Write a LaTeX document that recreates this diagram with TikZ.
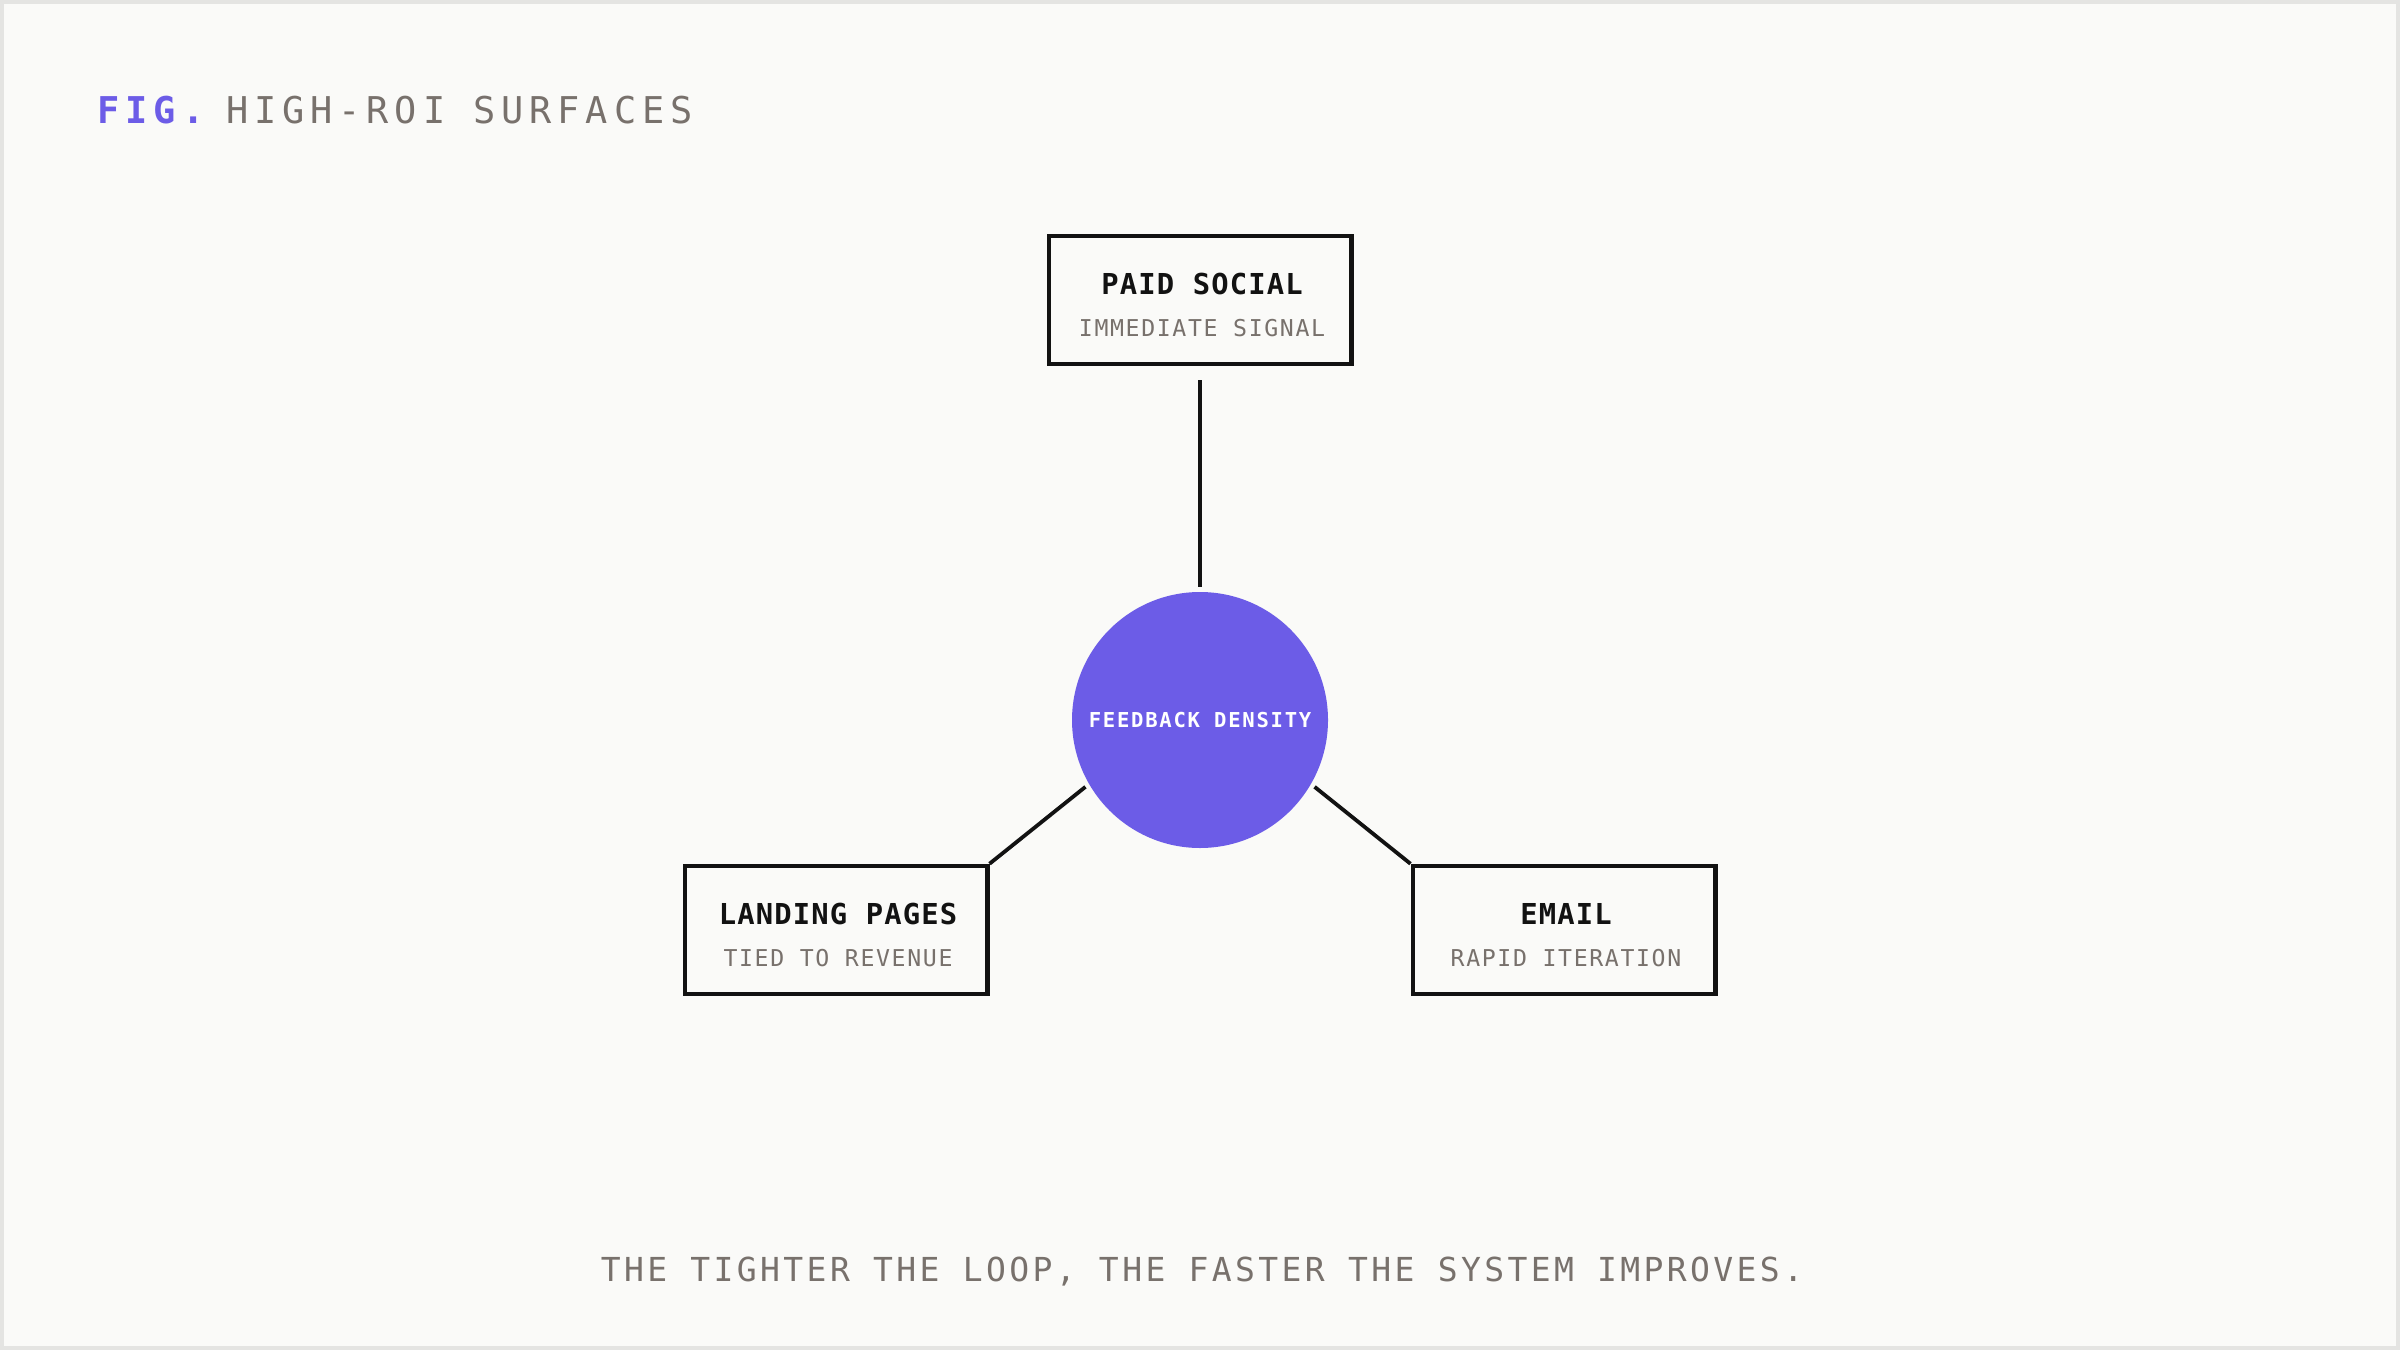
\documentclass[tikz,border=0pt]{standalone}
\usepackage{fontspec}
\usepackage{tikz}
\usetikzlibrary{positioning}
\newfontfamily\headfam[LetterSpace=16]{DejaVu Sans Mono}
\newfontfamily\surftitlefam[LetterSpace=4]{DejaVu Sans Mono}
\newfontfamily\surfsubfam[LetterSpace=7]{DejaVu Sans Mono}
\newfontfamily\hubfam[LetterSpace=8.5]{DejaVu Sans Mono}
\newfontfamily\notefam[LetterSpace=10.2]{DejaVu Sans Mono}
\newcommand{\headfont}{\headfam\fontsize{10.5pt}{12pt}\selectfont}
\newcommand{\surftitlefont}{\surftitlefam\fontsize{8.2pt}{10pt}\selectfont\bfseries}
\newcommand{\surfsubfont}{\surfsubfam\fontsize{6.6pt}{8pt}\selectfont}
\newcommand{\hubfont}{\hubfam\fontsize{5.85pt}{7pt}\selectfont\bfseries}
\newcommand{\notefont}{\notefam\fontsize{9.4pt}{11pt}\selectfont}
\definecolor{figpurple}{HTML}{6C5CE7}
\definecolor{inkgray}{HTML}{78716C}
\definecolor{paper}{HTML}{FAFAF8}
\definecolor{rim}{HTML}{E4E4E2}

\begin{document}
\begin{tikzpicture}[x=0.1mm,y=-0.1mm,
  surface/.style={draw=black!93,line width=0.45mm,fill=paper,minimum width=30.25mm,minimum height=12.8mm,inner sep=0pt},
  surftitle/.style={anchor=base,inner sep=0pt,font=\surftitlefont,text=black!93},
  surfsub/.style={anchor=base,inner sep=0pt,font=\surfsubfont,text=inkgray},
  spoke/.style={line width=0.38mm,draw=black!93}]
\fill[paper] (0,0) rectangle (2400,1350);
\draw[rim,line width=0.4mm] (2,2) rectangle (2398,1348);
\useasboundingbox (0,0) rectangle (2400,1350);
\node[anchor=base west,inner sep=0pt,font=\headfont,text=inkgray] (fig) at (97,124) {\textcolor{figpurple}{\bfseries FIG.}\hspace{2.2mm}HIGH-ROI SURFACES};
\node[circle,fill=figpurple,minimum size=25.6mm,inner sep=0pt,font=\hubfont,text=white] (hub) at (1200,720) {FEEDBACK DENSITY};
\foreach \nm/\px/\py/\ttl/\sub in {paid/1200/300/PAID SOCIAL/IMMEDIATE SIGNAL, landing/836/930/LANDING PAGES/TIED TO REVENUE, email/1564/930/EMAIL/RAPID ITERATION} {
  \node[surface] (\nm) at (\px,\py) {};
  \node[surftitle] (\nm-t) at (\px+2,\py-6) {\ttl};
  \node[surfsub] (\nm-s) at (\px+2,\py+36) {\sub};
}
\draw[spoke,shorten <=1.4mm,shorten >=0.4mm] (paid.south) -- (hub.north);
\draw[spoke,shorten <=0.4mm] (hub.210) -- (landing.north east);
\draw[spoke,shorten <=0.4mm] (hub.330) -- (email.north west);
\node[anchor=base,inner sep=0pt,font=\notefont,text=inkgray] (note) at (1202,1281) {THE TIGHTER THE LOOP, THE FASTER THE SYSTEM IMPROVES.};
\end{tikzpicture}
\end{document}
